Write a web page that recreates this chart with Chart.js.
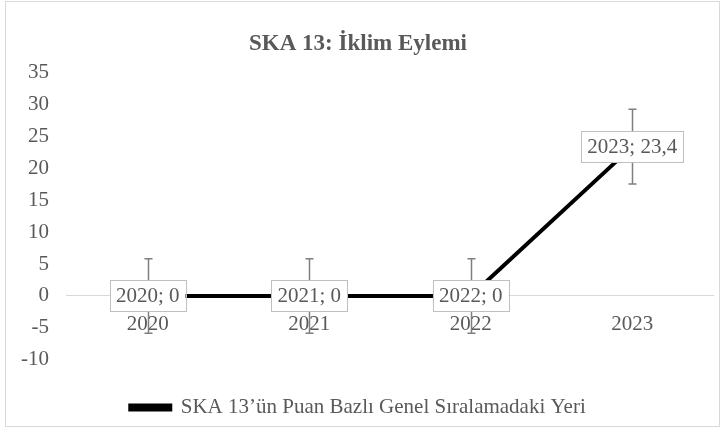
<!DOCTYPE html>
<html lang="tr">
<head>
<meta charset="UTF-8">
<title>SKA 13: İklim Eylemi</title>
<script src="https://cdn.jsdelivr.net/npm/chart.js"></script>
<style>
    html, body { margin: 0; padding: 0; background: #fff; }
    #kutu { position: relative; width: 724px; height: 428px; }
    #cerceve {
        position: absolute; left: 5px; top: 1px; width: 713px; height: 424px;
        border: 1px solid #d9d9d9; pointer-events: none;
    }
    #grafik { position: absolute; left: 0; top: 0; }
</style>
</head>
<body>
<div id="kutu">
    <canvas id="grafik" width="724" height="428"></canvas>
    <div id="cerceve"></div>
</div>
<script>
    // veriler
    const yillar = ['2020', '2021', '2022', '2023'];
    const siralama = [0, 0, 0, 23.4];
    const hataPayi = [5.85, 5.85, 5.85, 5.85]; // standart hata
    const etiketler = ['2020; 0', '2021; 0', '2022; 0', '2023; 23,4'];

    const gri = '#595959';
    const yazi = 'Liberation Serif, Times New Roman, serif';

    // hata çubukları ve veri etiketleri
    const ekler = {
        id: 'ekler',
        beforeDatasetsDraw(chart) {
            const ctx = chart.ctx;
            const x = chart.scales.x, y = chart.scales.y;
            ctx.save();
            ctx.strokeStyle = '#7f7f7f';
            ctx.lineWidth = 1.5;
            siralama.forEach((v, i) => {
                const px = Math.round(x.getPixelForValue(i)) + 0.5;
                const ust = y.getPixelForValue(v + hataPayi[i]);
                const alt = y.getPixelForValue(v - hataPayi[i]);
                ctx.beginPath();
                ctx.moveTo(px, ust); ctx.lineTo(px, alt);
                ctx.moveTo(px - 4, ust); ctx.lineTo(px + 4, ust);
                ctx.moveTo(px - 4, alt); ctx.lineTo(px + 4, alt);
                ctx.stroke();
            });
            ctx.restore();
        },
        afterDatasetsDraw(chart) {
            const ctx = chart.ctx;
            const x = chart.scales.x, y = chart.scales.y;
            ctx.save();
            ctx.font = '21px ' + yazi;
            ctx.textAlign = 'center';
            ctx.textBaseline = 'middle';
            siralama.forEach((v, i) => {
                const px = x.getPixelForValue(i);
                const py = y.getPixelForValue(v);
                const w = ctx.measureText(etiketler[i]).width + 12;
                const h = 31;
                ctx.fillStyle = '#fff';
                ctx.fillRect(px - w / 2, py - h / 2, w, h);
                ctx.strokeStyle = '#bfbfbf';
                ctx.lineWidth = 1;
                ctx.strokeRect(Math.round(px - w / 2) + 0.5, Math.round(py - h / 2) + 0.5, Math.round(w), h);
                ctx.fillStyle = gri;
                ctx.fillText(etiketler[i], px, py + 1);
            });
            ctx.restore();
        }
    };

    new Chart(document.getElementById('grafik'), {
        type: 'line',
        data: {
            labels: yillar,
            datasets: [{
                label: 'SKA 13’ün Puan Bazlı Genel Sıralamadaki Yeri',
                data: siralama,
                borderColor: '#000',
                backgroundColor: '#000',
                borderWidth: 4,
                pointRadius: 0,
                tension: 0
            }]
        },
        options: {
            responsive: false,
            animation: false,
            layout: { padding: { left: 3, right: 11, top: 0, bottom: 0 } },
            scales: {
                x: {
                    position: { y: 0 },
                    offset: true,
                    grid: { display: false, drawTicks: false },
                    border: { display: true, color: '#d9d9d9', width: 1 },
                    ticks: { color: gri, font: { family: yazi, size: 21 }, padding: 16, maxRotation: 0 }
                },
                y: {
                    min: -10,
                    max: 35,
                    ticks: { stepSize: 5, color: gri, font: { family: yazi, size: 21 }, padding: 18 },
                    grid: { display: false, drawTicks: false },
                    border: { display: false }
                }
            },
            plugins: {
                title: {
                    display: true,
                    text: 'SKA 13: İklim Eylemi',
                    color: gri,
                    font: { family: yazi, size: 23, weight: 'bold' },
                    padding: { top: 30, bottom: 15 }
                },
                legend: {
                    position: 'bottom',
                    title: { display: true, text: ' ', font: { size: 1 }, padding: { top: 30 } },
                    labels: {
                        color: gri,
                        font: { family: yazi, size: 21 },
                        boxWidth: 40,
                        boxHeight: 4,
                        padding: 6
                    }
                },
                tooltip: { enabled: false }
            }
        },
        plugins: [ekler]
    });
</script>
</body>
</html>
